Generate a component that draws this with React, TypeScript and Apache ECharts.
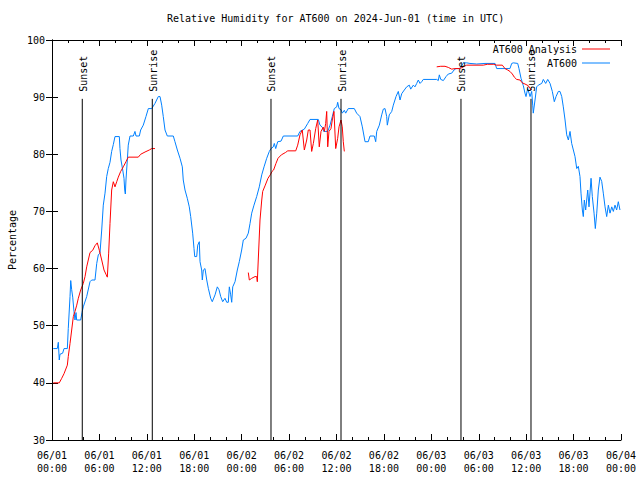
import React, { useEffect, useRef } from 'react';
import * as echarts from 'echarts';

const FONT = '"DejaVu Sans Mono", "Liberation Mono", monospace';

// hours since 2024-06-01 00:00 UTC
const xTickLabels = [
  '06/01\n00:00', '06/01\n06:00', '06/01\n12:00', '06/01\n18:00',
  '06/02\n00:00', '06/02\n06:00', '06/02\n12:00', '06/02\n18:00',
  '06/03\n00:00', '06/03\n06:00', '06/03\n12:00', '06/03\n18:00',
  '06/04\n00:00',
];

const sunEventHours = [3.83, 12.69, 27.71, 36.57, 51.75, 60.61];
const sunEventLabels = ['Sunset', 'Sunrise', 'Sunset', 'Sunrise', 'Sunset', 'Sunrise'];

const at600Hours = [
  0.16, 0.67, 0.8, 0.92, 1.01, 1.35, 1.52, 1.94, 2.06, 2.28, 2.37, 2.49, 2.62, 2.78, 2.91, 3.04, 3.12, 3.63, 3.8, 3.96,
  4.39, 4.81, 5.02, 5.44, 5.66, 5.86, 6.07, 6.29, 6.49, 6.71, 6.92, 7.12, 7.34, 7.55, 7.76, 7.97, 8.52, 8.6, 8.73, 8.95,
  9.11, 9.2, 9.28, 9.36, 9.53, 9.65, 9.87, 10.29, 10.5, 10.63, 11.05, 11.22, 11.55, 11.89, 12.19, 12.62, 13.03, 13.45, 13.67, 13.88,
  14.08, 14.3, 14.59, 15.35, 15.56, 15.86, 16.2, 16.49, 16.61, 16.83, 17.12, 17.37, 17.55, 17.8, 17.97, 18.06, 18.31, 18.44, 18.64, 18.73,
  18.94, 19.02, 19.15, 19.36, 19.58, 19.78, 20.08, 20.28, 20.63, 20.92, 21.13, 21.35, 21.6, 21.89, 22.11, 22.31, 22.44, 22.61, 22.74, 22.87,
  23.16, 23.45, 23.7, 24.0, 24.21, 24.55, 24.84, 25.06, 25.27, 25.56, 25.9, 26.23, 26.54, 26.83, 27.17, 27.5, 27.71, 28.0, 28.13, 28.31,
  28.56, 28.98, 29.27, 31.09, 31.38, 31.93, 32.36, 32.65, 33.7, 33.91, 34.2, 34.38, 34.89, 35.18, 35.47, 35.72, 36.03, 36.15, 36.32, 36.57,
  36.73, 36.99, 37.16, 37.49, 38.25, 38.55, 38.97, 39.27, 39.61, 40.02, 40.24, 40.78, 40.96, 41.09, 41.42, 41.72, 41.92, 42.14, 42.35, 42.43,
  42.68, 42.99, 43.19, 43.53, 43.82, 44.04, 44.25, 44.58, 44.88, 45.21, 45.39, 45.72, 45.93, 46.15, 46.35, 46.57, 46.78, 46.98, 48.68, 48.88,
  49.01, 49.19, 49.52, 49.86, 50.15, 50.58, 50.87, 51.12, 51.54, 51.84, 52.05, 52.47, 52.89, 53.74, 54.79, 56.06, 56.27, 57.95, 58.17, 58.37,
  58.93, 59.09, 59.35, 59.64, 59.85, 59.98, 60.19, 60.49, 60.7, 60.83, 60.9, 61.12, 61.33, 61.54, 61.97, 62.17, 62.47, 62.73, 63.02, 63.31,
  63.56, 63.78, 64.07, 64.28, 64.5, 64.7, 64.92, 65.13, 65.34, 65.55, 65.76, 65.97, 66.18, 66.4, 66.6, 66.81, 66.94, 67.11, 67.23, 67.36,
  67.53, 67.79, 67.95, 68.21, 68.37, 68.59, 68.75, 68.93, 69.13, 69.34, 69.56, 69.76, 69.98, 70.19, 70.4, 70.61, 70.83, 71.03, 71.24, 71.45,
  71.66, 71.87,
];
const at600Values = [
  46, 46, 47.1, 44, 45, 45.2, 46, 46, 49.5, 55.1, 57.9, 56.3, 55, 52.5, 51, 52.3, 51, 51, 52.3, 53.3,
  55.1, 57.7, 58, 58, 60.9, 62.4, 62.7, 66.75, 71.1, 73.2, 76.1, 77.5, 78.6, 80.5, 81.7, 83.1, 83.1, 81, 79, 77.25,
  75.8, 73.75, 73.05, 75.5, 79, 81.6, 83.2, 83.2, 84, 83.2, 83.2, 84.25, 85.1, 86.6, 88, 88, 88.9, 90.1, 90.1, 88.6,
  86.6, 84.25, 83.2, 83.2, 82.2, 80.75, 79.3, 77.8, 75.5, 73.75, 72.3, 70.8, 69.1, 66.2, 63.5, 62.1, 62.1, 64.1, 64.7, 61.2,
  59.75, 58, 59.75, 60, 58, 56.55, 54.8, 54.2, 55.4, 56.8, 56.3, 55.1, 54.2, 54.8, 54.1, 54.1, 56.8, 55.4, 54.1, 56.8,
  57.7, 59.75, 61.2, 63.25, 65, 65.3, 66.2, 67.9, 69.7, 71.1, 72.6, 74.3, 76.4, 77.8, 79.3, 80.5, 81, 81.3, 81.9, 81,
  82.2, 82.3, 83.2, 83.2, 84, 84.4, 85.4, 86.1, 86.1, 85.1, 84.75, 84, 84, 85.1, 86.6, 88, 88.3, 89.1, 88, 87.8,
  87.2, 87.7, 87.2, 88, 88, 87.2, 86.6, 84.8, 82.2, 82.2, 83.2, 83.2, 82.2, 84, 85.1, 86.9, 87.9, 88, 86.6, 85.1,
  86.9, 87.5, 88.6, 90.1, 91, 89.5, 90.6, 91.25, 91.8, 92.1, 91.4, 92.1, 91.8, 92.4, 93, 92.4, 92.7, 93.1, 93.1, 92.9,
  93.9, 93.1, 92.9, 93.6, 94.05, 94.2, 94.75, 95, 95, 95.45, 96, 96, 95.9, 95.8, 95.9, 95.9, 95, 95, 95.9, 96,
  95.9, 95, 93.3, 92, 90.7, 90.1, 91.5, 90.1, 91, 88.6, 87.2, 89.5, 91.8, 92.1, 92.4, 93.1, 92.4, 93.1, 92.4, 91,
  89.2, 90.1, 91, 91, 90.1, 88.3, 86, 83.4, 82.5, 84, 81.9, 80.75, 79.6, 77.5, 77.9, 76.1, 73.2, 70.25, 69.1, 72,
  70.25, 73.75, 70.8, 75.8, 72.6, 69.7, 67, 69.7, 73.75, 76, 75.25, 73.2, 70.8, 69.1, 71.1, 69.7, 70.8, 70, 71.1, 70.25,
  71.7, 70.25,
];

const analysisHours = [
  0.16, 0.92, 1.23, 1.52, 1.94, 2.06, 2.28, 2.49, 2.7, 2.91, 3.13, 3.33, 3.63, 3.96, 4.18, 4.39, 4.59, 4.81, 5.15, 5.44,
  5.73, 5.99, 6.29, 6.58, 6.83, 7.0, 7.17, 7.34, 7.55, 7.76, 7.97, 8.19, 8.39, 8.69, 9.02, 9.36, 9.65, 10.92, 11.22, 11.77,
  12.31, 12.62, 13.03,
  18.0,
  24.84, 24.97, 25.27, 25.69, 25.9, 25.98, 26.1, 26.32, 26.54, 26.66, 26.99, 27.33, 27.62, 27.84, 28.04, 28.34, 28.6, 29.02, 29.53, 29.83,
  30.84, 31.09, 31.38, 31.67, 31.93, 32.23, 32.43, 32.65, 32.86, 33.07, 33.37, 33.62, 33.82, 34.04, 34.33, 34.46, 34.63, 34.76, 34.89, 35.05,
  35.3, 35.47, 35.68, 35.9, 36.15, 36.32, 36.57, 36.73, 36.86, 36.99,
  42.0,
  48.68, 49.19, 49.73, 50.15, 50.58, 51.0, 51.63, 52.05, 52.47, 54.58, 55.08, 55.84, 56.27, 56.98, 57.32, 57.66, 57.95, 58.25, 58.5, 58.8,
  59.22, 59.51, 59.85, 60.27, 60.49, 60.7,
];
const analysisValues: (number | null)[] = [
  40, 40, 40.8, 41.6, 43.1, 44.6, 46.9, 49.25, 51.6, 52.5, 53.6, 54.8, 56.25, 57.4, 58.6, 60.3, 61.5, 62.8, 63.2, 64,
  64.5, 63.2, 61.5, 59.75, 59, 58.5, 62.7, 67.9, 73.75, 75.2, 74.3, 75.2, 76, 77, 77.8, 78.7, 79.5, 79.5, 80, 80.4,
  80.75, 81, 81,
  null,
  59.3, 58, 58.3, 58.6, 58.6, 57.7, 61.5, 68.5, 72, 73.5, 74.6, 75.8, 76.4, 77, 77.25, 78.4, 79.3, 79.9, 80.3, 80.6,
  80.6, 81.6, 83.4, 84.25, 80.75, 82.5, 84.25, 84.25, 80.5, 81.9, 84.5, 86, 81.3, 84, 84.75, 84, 85.4, 87.5, 81.3, 84,
  84.5, 86, 87.5, 81, 82.8, 84.8, 86, 84.8, 82.2, 80.5,
  null,
  95.3, 95.4, 95.4, 95.2, 94.9, 95, 95, 95.3, 95.6, 95.6, 95.75, 95.75, 95.6, 95.6, 95, 94.75, 94.5, 94.05, 93.5, 93.1,
  93, 92.5, 92.3, 92, 91.5, 91.3,
];

const SUN_LINE_TOP = 89.7;

export default function App() {
  const ref = useRef<HTMLDivElement>(null);
  useEffect(() => {
    const chart = echarts.init(ref.current!, null, { renderer: 'svg' });
    const blueData = at600Hours.map((h, i) => [h, at600Values[i]]);
    const redData = analysisHours.map((h, i) => [h, analysisValues[i] === null ? '-' : analysisValues[i]]);
    const axisLine = { show: true, lineStyle: { color: '#000', width: 1 } };
    const textBase = { fontFamily: FONT, fontSize: 10, color: '#000' };
    const tick = { show: true, inside: true, length: 6, lineStyle: { color: '#000' } };
    const minor = { show: true, splitNumber: 3, length: 3, lineStyle: { color: '#000' } };
    const legendBase = {
      orient: 'vertical',
      align: 'right',
      right: 30,
      padding: 0,
      itemWidth: 28,
      itemHeight: 1,
      icon: 'rect',
      textStyle: textBase,
    };
    const option: any = {
      animation: false,
      backgroundColor: '#fff',
      title: {
        text: 'Relative Humidity for AT600 on 2024-Jun-01 (time in UTC)',
        left: 167,
        top: 13,
        padding: 0,
        textStyle: { ...textBase, fontWeight: 'normal' },
      },
      legend: [
        { ...legendBase, data: ['AT600 Analysis'], top: 44 },
        { ...legendBase, data: ['AT600'], top: 58 },
      ],
      grid: { left: 52, right: 19, top: 40, bottom: 40, containLabel: false },
      xAxis: [
        {
          type: 'value',
          min: 0,
          max: 72,
          interval: 6,
          axisLine,
          axisTick: tick,
          minorTick: minor,
          splitLine: { show: false },
          axisLabel: {
            ...textBase,
            margin: 9,
            lineHeight: 13,
            formatter: (v: number) => xTickLabels[Math.round(v / 6)] ?? '',
          },
        },
        {
          type: 'value',
          position: 'top',
          min: 0,
          max: 72,
          interval: 6,
          axisLine,
          axisTick: tick,
          minorTick: minor,
          splitLine: { show: false },
          axisLabel: { show: false },
        },
      ],
      yAxis: [
        {
          type: 'value',
          min: 30,
          max: 100,
          interval: 10,
          axisLine,
          axisTick: tick,
          splitLine: { show: false },
          axisLabel: { ...textBase, margin: 7 },
        },
        {
          type: 'value',
          position: 'right',
          min: 30,
          max: 100,
          interval: 10,
          axisLine,
          axisTick: tick,
          splitLine: { show: false },
          axisLabel: { show: false },
        },
      ],
      graphic: [
        {
          type: 'text',
          x: 12,
          y: 240,
          rotation: Math.PI / 2,
          style: {
            text: 'Percentage',
            font: `10px ${FONT}`,
            fill: '#000',
            align: 'center',
            verticalAlign: 'middle',
          },
        },
      ],
      series: [
        {
          name: 'AT600 Analysis',
          type: 'line',
          data: redData,
          symbol: 'none',
          connectNulls: false,
          lineStyle: { color: '#ff0000', width: 1 },
          itemStyle: { color: '#ff0000' },
          z: 3,
        },
        {
          name: 'AT600',
          type: 'line',
          data: blueData,
          symbol: 'none',
          lineStyle: { color: '#0080ff', width: 1 },
          itemStyle: { color: '#0080ff' },
          z: 2,
        },
        {
          name: 'sun',
          type: 'custom',
          data: sunEventHours.map((h) => [h, SUN_LINE_TOP]),
          z: 4,
          renderItem: (params: any, api: any) => {
            const h = api.value(0);
            const p0 = api.coord([h, 30]);
            const p1 = api.coord([h, api.value(1)]);
            return {
              type: 'group',
              children: [
                {
                  type: 'line',
                  shape: { x1: p0[0], y1: p0[1], x2: p1[0], y2: p1[1] },
                  style: { stroke: '#000', lineWidth: 1 },
                },
                {
                  type: 'text',
                  x: p1[0] + 1,
                  y: p1[1] - 7,
                  rotation: Math.PI / 2,
                  style: {
                    text: sunEventLabels[params.dataIndex],
                    font: `10px ${FONT}`,
                    fill: '#000',
                    align: 'left',
                    verticalAlign: 'middle',
                  },
                },
              ],
            };
          },
        },
      ],
    };
    chart.setOption(option);
    return () => chart.dispose();
  }, []);
  return <div ref={ref} style={{ position: 'fixed', left: 0, top: 0, width: 640, height: 480 }} />;
}
